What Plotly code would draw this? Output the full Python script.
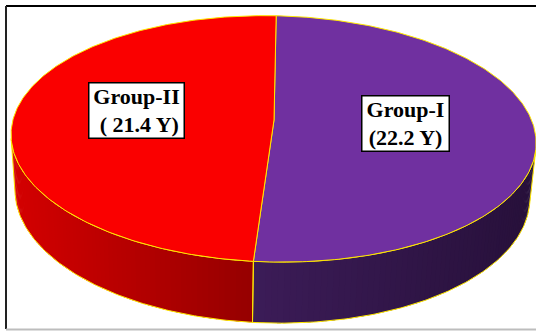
import numpy as np
import plotly.graph_objects as go

# --- data -------------------------------------------------------------
groups = ["Group-I", "Group-II"]
mean_age_years = [22.2, 21.4]
label_formats = ["{g}<br>({v} Y)", "{g}<br> ( {v} Y)"]

# --- styling ----------------------------------------------------------
top_colors = ["#7030a0", "#fa0000"]
wall_left_colors = ["#3c1c58", "#d40000"]
wall_right_colors = ["#27103a", "#960000"]
edge_color = "#ffe800"

W, H_PX = 536, 331

# perspective camera for the 3D disc
FOCAL, DIST, ELEV = 1500.0, 5.78, np.radians(27.6)
CX, CY = 274.0, 120.0
TILT = np.radians(1.2)
THICK = 0.242


def project(phi, r=1.0, h=0.0):
    phi = np.asarray(phi, dtype=float)
    x3 = r * np.cos(phi)
    z3 = r * np.sin(phi)
    depth = DIST - h * np.sin(ELEV) + z3 * np.cos(ELEV)
    sx = FOCAL * x3 / depth
    sy = -FOCAL * (h * np.cos(ELEV) + z3 * np.sin(ELEV)) / depth
    px = CX + sx * np.cos(TILT) - sy * np.sin(TILT)
    py = CY + sx * np.sin(TILT) + sy * np.cos(TILT)
    return px, py


def hex_to_rgb(c):
    c = c.lstrip("#")
    return np.array([int(c[i:i + 2], 16) for i in (0, 2, 4)], dtype=float)


def lerp_color(c0, c1, t):
    rgb = hex_to_rgb(c0) * (1 - t) + hex_to_rgb(c1) * t
    return "rgb({:.0f},{:.0f},{:.0f})".format(*rgb)


# slice angles: start at the far point, run clockwise
total = sum(mean_age_years)
fractions = [v / total for v in mean_age_years]
starts, ends = [], []
angle = np.pi / 2
for f in fractions:
    starts.append(angle)
    angle -= 2 * np.pi * f
    ends.append(angle)

# visible part of the outer wall (faces the camera)
s0 = np.arcsin(1.0 / (DIST * np.cos(ELEV)))
vis_lo, vis_hi = -np.pi + s0, -s0

fig = go.Figure()

wall_outlines = []
for i in range(len(groups)):
    a, b = ends[i], starts[i]
    seg = None
    for shift in (0.0, 2 * np.pi, -2 * np.pi):
        lo = max(a + shift, vis_lo)
        hi = min(b + shift, vis_hi)
        if hi > lo:
            seg = (lo, hi)
            break
    if seg is None:
        continue
    lo, hi = seg
    xl, _ = project(hi)
    xr, _ = project(lo)
    x_min, x_max = min(xl, xr), max(xl, xr)
    n = 70
    edges = np.linspace(lo, hi, n + 1)
    for k in range(n):
        p0 = edges[k]
        p1 = min(edges[k + 1] + (hi - lo) / n * 0.6, hi)
        ph = np.linspace(p0, p1, 4)
        tx, ty = project(ph, h=0.0)
        bx, by = project(ph[::-1], h=-THICK)
        xs = np.concatenate([tx, bx, tx[:1]])
        ys = np.concatenate([ty, by, ty[:1]])
        t = (np.mean(tx) - x_min) / max(x_max - x_min, 1e-9)
        col = lerp_color(wall_left_colors[i], wall_right_colors[i], float(np.clip(t, 0, 1)))
        fig.add_trace(go.Scatter(
            x=xs, y=ys, mode="lines", fill="toself", fillcolor=col,
            line=dict(width=0, color=col), hoverinfo="skip", showlegend=False))
    ph = np.linspace(lo, hi, 120)
    tx, ty = project(ph, h=0.0)
    bx, by = project(ph[::-1], h=-THICK)
    wall_outlines.append((np.concatenate([tx, bx, tx[:1]]),
                          np.concatenate([ty, by, ty[:1]])))

for xs, ys in wall_outlines:
    fig.add_trace(go.Scatter(
        x=xs, y=ys, mode="lines", line=dict(color=edge_color, width=1),
        hoverinfo="skip", showlegend=False))

# top faces
for i in range(len(groups)):
    ph = np.linspace(starts[i], ends[i], 240)
    ax, ay = project(ph)
    cx0, cy0 = project(0.0, r=0.0)
    xs = np.concatenate([[cx0], ax, [cx0]])
    ys = np.concatenate([[cy0], ay, [cy0]])
    fig.add_trace(go.Scatter(
        x=xs, y=ys, mode="lines", fill="toself", fillcolor=top_colors[i],
        line=dict(color=edge_color, width=1), hoverinfo="skip",
        name=groups[i], showlegend=False))

# value labels in boxes
label_r = [0.505, 0.53]
label_dy = [-1.0, -5.0]
label_w = [86, 94]
for i in range(len(groups)):
    mid = (starts[i] + ends[i]) / 2
    lx, ly = project(mid, r=label_r[i])
    fig.add_annotation(
        x=float(lx), y=float(ly + label_dy[i]), xref="x", yref="y",
        text=label_formats[i].format(g=groups[i], v=mean_age_years[i]),
        showarrow=False, align="center", width=label_w[i],
        font=dict(family="Liberation Serif", size=22, color="black", weight="bold"),
        bgcolor="white", bordercolor="black", borderwidth=1.5, borderpad=0)

# frame
fig.add_shape(type="line", x0=6, y0=6, x1=W + 5, y1=6, line=dict(color="black", width=2))
fig.add_shape(type="line", x0=6, y0=6, x1=6, y1=329, line=dict(color="#222222", width=2))
fig.add_shape(type="line", x0=6, y0=329.5, x1=W + 5, y1=329.5, line=dict(color="#bdbdbd", width=2))

fig.update_layout(
    width=W, height=H_PX, autosize=False,
    margin=dict(l=0, r=0, t=0, b=0),
    paper_bgcolor="white", plot_bgcolor="white",
    xaxis=dict(range=[0, W], visible=False, fixedrange=True),
    yaxis=dict(range=[H_PX, 0], visible=False, fixedrange=True),
)

fig.write_html("out.html")
